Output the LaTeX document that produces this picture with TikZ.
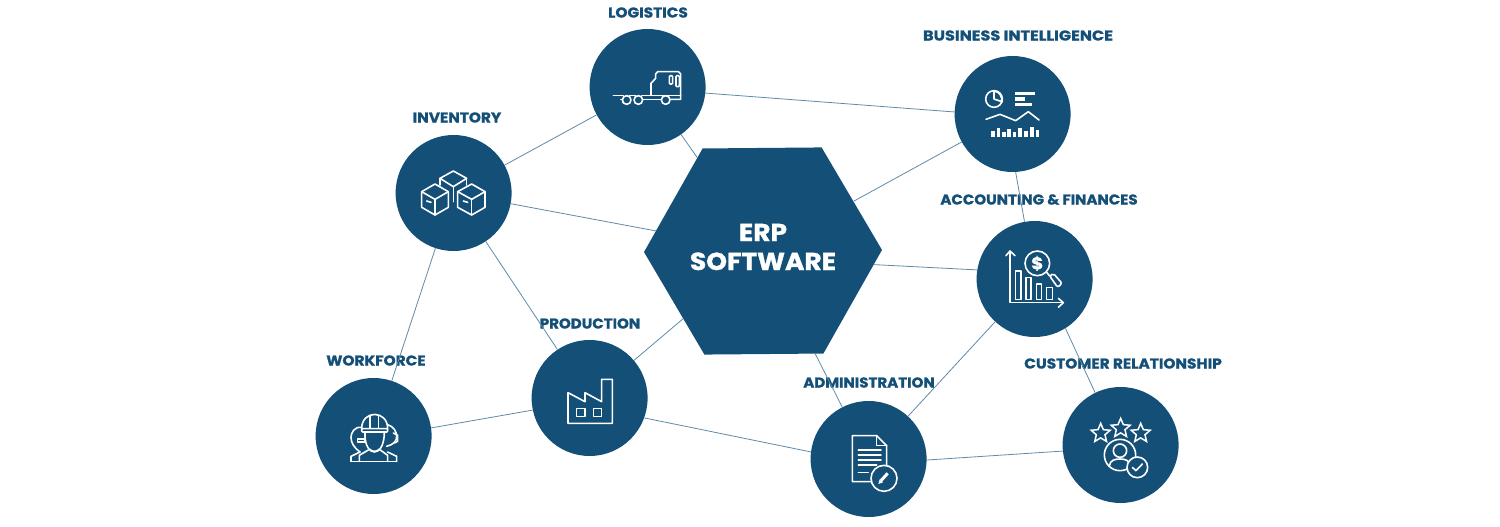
\documentclass[tikz,border=0pt]{standalone}
\usepackage{fontspec}
\setmainfont{Poppins}[BoldFeatures={FakeStretch=1.08,FakeBold=1.2}]
\usetikzlibrary{shapes.geometric}
\definecolor{erpblue}{HTML}{144F78}
\definecolor{linkblue}{HTML}{5F8AA8}
\begin{document}
\begin{tikzpicture}[x=1pt,y=-1pt]
\tikzstyle{hub}=[circle, fill=erpblue, draw=none, minimum size=116pt, inner sep=0pt]
\tikzstyle{lbl}=[text=erpblue, font=\fontsize{14.2pt}{15pt}\bfseries, inner sep=0pt, transform shape]
\tikzstyle{link}=[draw=linkblue, line width=0.8pt]
\tikzstyle{ic}=[draw=white, line width=1.6pt, line join=round, line cap=round]
\tikzstyle{icf}=[fill=white, draw=none]
\useasboundingbox (0,0) rectangle (1500,527);

\node[regular polygon, regular polygon sides=6, shape border rotate=0.5, fill=erpblue, minimum size=238pt, inner sep=0pt] (erp) at (763,251) {};
\node[text=white, font=\fontsize{24.5pt}{29pt}\bfseries, align=center, inner sep=0pt] (erptxt) at (763,247) {ERP\\SOFTWARE};

\node[hub] (log) at (647.6,87) {};
\node[hub] (bi) at (1012.6,114) {};
\node[hub] (inv) at (453.6,193) {};
\node[hub] (acc) at (1034.6,279) {};
\node[hub] (wrk) at (373.6,436) {};
\node[hub] (prd) at (589.6,398) {};
\node[hub] (adm) at (868.6,459) {};
\node[hub] (cus) at (1120.6,445) {};

\node[lbl] (loglbl) at (648,12.5) {LOGISTICS};
\node[lbl, xscale=1.05] (bilbl) at (1018,35.5) {BUSINESS INTELLIGENCE};
\node[lbl] (invlbl) at (457,117.5) {INVENTORY};
\node[lbl, xscale=0.98] (acclbl) at (1039,199.5) {ACCOUNTING \& FINANCES};
\node[lbl, xscale=0.98] (prdlbl) at (590,323.5) {PRODUCTION};
\node[lbl] (wrklbl) at (376,360.5) {WORKFORCE};
\node[lbl, xscale=0.98] (admlbl) at (869,382.5) {ADMINISTRATION};
\node[lbl] (cuslbl) at (1123,363.5) {CUSTOMER RELATIONSHIP};

\draw[link] (log) -- (inv);
\draw[link] (log.-6) -- (bi.178);
\draw[link] (log) -- (erp);
\draw[link] (inv) -- (erp);
\draw[link] (inv) -- (wrk);
\draw[link] (inv) -- (prd);
\draw[link] (wrk.8) -- (prd.192);
\draw[link] (prd) -- (erp);
\draw[link] (prd.-20) -- (adm.173);
\draw[link] (erp) -- (bi);
\draw[link] (erp.-7) -- (acc.171);
\draw[link] (erp) -- (adm);
\draw[link] (bi.-87) -- (acc.100);
\draw[link] (acc) -- (adm);
\draw[link] (acc.-58) -- (cus.116);
\draw[link] (adm.-1) -- (cus.186);

\begin{scope}[shift={(590,30)},scale=1/3]
\draw[ic] (183,195) -- (183,160) -- (197,145) -- (197,132) -- (203,125) -- (265,125) -- (272,132) -- (272,208) -- (240,208);
\draw[ic] (155,197) -- (272,197);
\draw[ic] (158,208) -- (214,208);
\draw[ic] (70,197) -- (100,197);
\draw[ic] (118,197) -- (137,197);
\draw[ic] (92,208) -- (97,208);
\draw[ic] (98,218) -- (103,218);
\foreach \x in {110,145,227} \filldraw[ic, fill=erpblue] (\x,210) circle (13);
\draw[ic, rounded corners=1pt] (238,137) rectangle (248,162);
\draw[ic, rounded corners=1pt] (258,137) rectangle (268,170);
\end{scope}

\begin{scope}[shift={(950,55)},scale=1/3]
\draw[ic] (132,132) circle (25);
\draw[ic] (132,107) -- (132,132) -- (156,140);
\draw[ic, line width=2pt] (134,108) .. controls (150,110) and (157,125) .. (156,140);
\fill[icf] (196,110) rectangle (255,120);
\fill[icf] (196,127) rectangle (226,137);
\fill[icf] (196,143) rectangle (245,152);
\draw[ic] (108,193) -- (150,178) -- (197,197) -- (235,170) -- (267,195);
\foreach \x/\t in {123/227,140/220,157/230,172/222,188/232,205/218,222/227,240/215,257/225} \fill[icf] (\x,\t) rectangle (\x+11,247);
\end{scope}

\begin{scope}[shift={(395,135)},scale=1/3]
\draw[ic] (175,108) -- (135,130) -- (175,155) -- (215,130) -- cycle;
\draw[ic] (135,130) -- (135,150);
\draw[ic] (215,130) -- (215,150);
\draw[ic] (175,155) -- (175,200);
\draw[ic] (120,147) -- (80,170) -- (80,217) -- (120,240) -- (160,217) -- (160,170) -- cycle;
\draw[ic] (80,170) -- (120,193) -- (160,170);
\draw[ic] (120,193) -- (120,240);
\draw[ic] (230,147) -- (188,170) -- (188,217) -- (230,240) -- (270,217) -- (270,170) -- cycle;
\draw[ic] (188,170) -- (230,193) -- (270,170);
\draw[ic] (230,193) -- (230,240);
\draw[ic] (95,198) -- (108,202);
\draw[ic] (205,198) -- (218,202);
\end{scope}

\begin{scope}[shift={(975,220)},scale=1/3]
\draw[ic] (105,95) -- (105,248) -- (265,248);
\draw[ic] (93,107) -- (105,93) -- (120,107);
\draw[ic] (250,235) -- (265,248) -- (250,262);
\draw[ic] (122,153) rectangle (138,238);
\draw[ic] (153,173) rectangle (168,238);
\draw[ic] (184,192) rectangle (200,238);
\draw[ic] (215,203) rectangle (232,238);
\filldraw[ic, fill=erpblue] (187,130) circle (37);
\draw[ic] (214,156) -- (224,168);
\draw[ic, rounded corners=2pt] (224,168) -- (235,160) -- (261,190) -- (248,202) -- cycle;
\node[text=white, font=\fontsize{17pt}{17pt}\bfseries, inner sep=0pt] (usd) at (187,130) {\$};
\end{scope}

\begin{scope}[shift={(315,378)},scale=1/3]
\draw[ic] (140,152) .. controls (140,95) and (218,95) .. (218,152);
\draw[ic, rounded corners=1pt] (140,152) rectangle (218,162);
\draw[ic] (165,115) -- (165,150);
\draw[ic] (190,115) -- (190,150);
\draw[ic] (150,162) .. controls (148,205) and (165,222) .. (178,222) .. controls (192,222) and (208,205) .. (208,162);
\draw[ic] (108,250) -- (245,250);
\draw[ic] (108,250) -- (108,235) -- (135,222);
\draw[ic] (245,250) -- (245,235) -- (218,222);
\draw[ic] (133,250) -- (133,232) -- (160,216);
\draw[ic] (218,250) -- (218,232) -- (196,216);
\draw[ic] (165,214) .. controls (170,222) and (186,222) .. (192,214);
\draw[ic] (140,148) .. controls (118,145) and (108,165) .. (108,178) .. controls (108,195) and (118,210) .. (135,222);
\draw[ic] (127,183) rectangle (150,192);
\draw[ic] (218,140) .. controls (235,145) and (245,160) .. (245,175) .. controls (245,190) and (235,200) .. (215,205);
\draw[ic] (235,165) -- (248,172) -- (248,190) -- (238,195);
\end{scope}

\begin{scope}[shift={(530,340)},scale=1/3]
\draw[ic] (114,250) -- (114,158) -- (165,185) -- (165,158) -- (215,185) -- (215,118) -- (247,118) -- (247,250) -- cycle;
\draw[ic] (140,205) rectangle (165,230);
\draw[ic] (190,205) rectangle (215,230);
\end{scope}

\begin{scope}[shift={(810,400)},scale=1/3]
\draw[ic] (185,245) -- (127,245) -- (127,107) -- (200,107) -- (230,137) -- (230,200);
\draw[ic] (200,107) -- (200,137) -- (230,137);
\foreach \y in {150,165,180} \draw[ic] (145,\y) -- (213,\y);
\draw[ic] (145,195) -- (200,195);
\draw[ic] (145,217) -- (175,217);
\filldraw[ic, fill=erpblue] (222,235) circle (39);
\draw[white, line width=3pt] (213,242) -- (233,220);
\fill[icf] (205,252) -- (209,238) -- (219,247) -- cycle;
\end{scope}

\begin{scope}[shift={(1060,385)},scale=1/3]
\foreach \n/\x/\y in {a/122/145,b/182/130,c/242/145}
  \node[star, star points=5, star point ratio=2.2, draw=white, line width=1.5pt, minimum size=20pt, inner sep=0pt] (st\n) at (\x,\y) {};
\draw[ic] (180,210) circle (47);
\draw[ic] (180,197) circle (20);
\draw[ic] (148,243) .. controls (150,225) and (165,222) .. (180,222) .. controls (195,222) and (208,225) .. (212,243);
\filldraw[ic, fill=erpblue] (232,247) circle (31);
\draw[ic] (217,247) -- (228,257) -- (247,237);
\end{scope}
\end{tikzpicture}
\end{document}
